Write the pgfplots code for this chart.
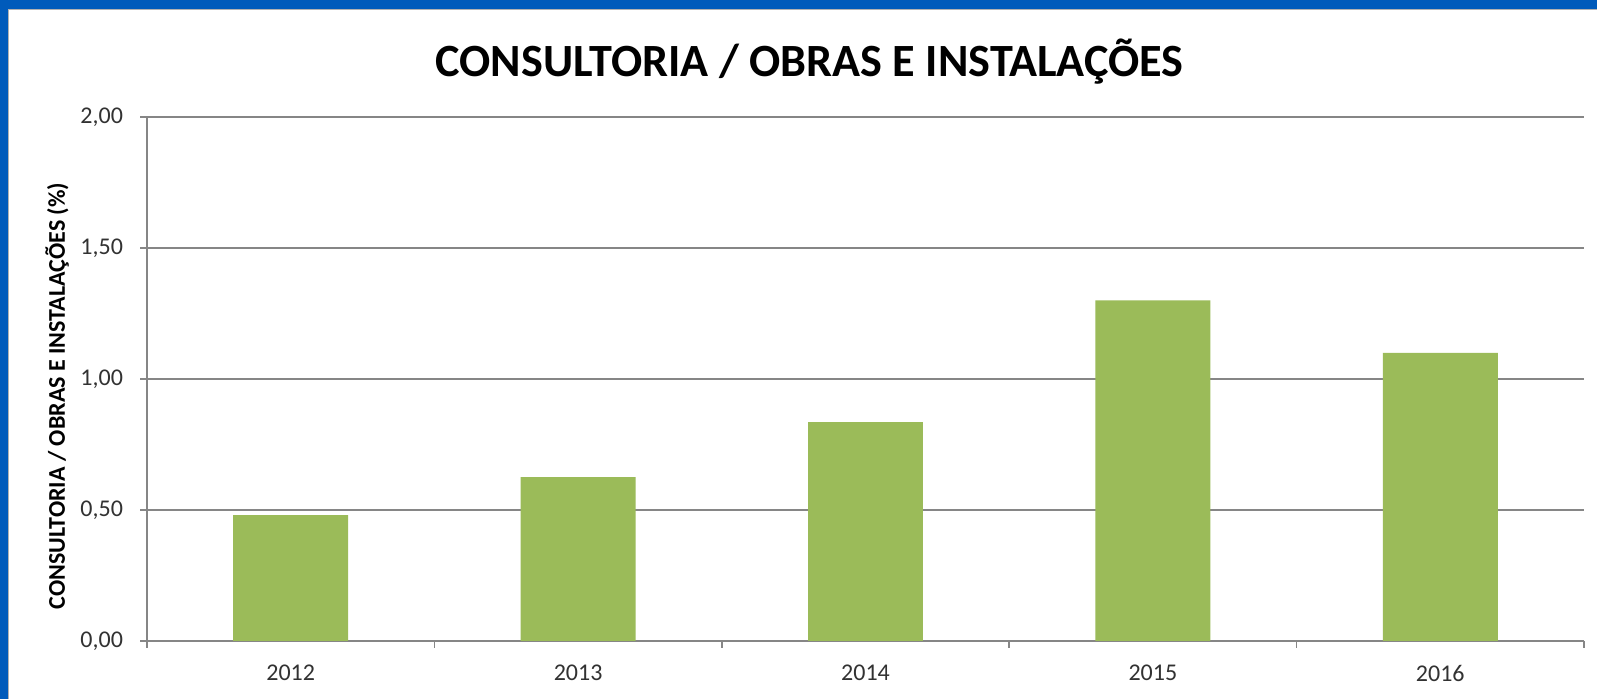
\documentclass[border=0pt]{standalone}
\usepackage{pgfplots}
\pgfplotsset{compat=1.18}
\usepackage{fontspec}
\setmainfont{Carlito}
\definecolor{bandblue}{RGB}{0,91,187}
\definecolor{bargreen}{RGB}{155,187,89}
\definecolor{gridgray}{RGB}{134,134,134}
\definecolor{ticktext}{RGB}{50,50,50}
\begin{document}
\begin{tikzpicture}
\useasboundingbox (0,0) rectangle (798.5pt,349.5pt);
\fill[white] (0,0) rectangle (798.5pt,349.5pt);
\fill[bandblue] (0,345pt) rectangle (798.5pt,349.5pt);
\fill[bandblue] (0,0) rectangle (4pt,349.5pt);
\draw[gray!60, line width=0.6pt] (4.3pt,0) -- (4.3pt,344.7pt) -- (798.5pt,344.7pt);
\begin{axis}[
  at={(73.5pt,29pt)}, anchor=south west,
  width=718.5pt, height=262pt, scale only axis,
  xmin=-0.5, xmax=4.5, ymin=0, ymax=2,
  axis lines*=left,
  axis line style={gridgray, line width=0.8pt},
  ytick={0,0.5,1,1.5,2},
  ymajorgrids,
  grid style={gridgray, line width=0.8pt},
  xtick={0,1,2,3,4},
  xticklabels={2012,2013,2014,2015,2016},
  minor xtick={-0.5,0.5,1.5,2.5,3.5,4.5},
  major x tick style={draw=none},
  tick style={gridgray, line width=0.8pt},
  tick align=outside,
  major tick length=3.5pt,
  minor tick length=3.5pt,
  /pgf/number format/.cd, fixed, fixed zerofill, precision=2, use comma, assume math mode=true,
  /pgfplots/.cd,
  tick label style={font=\fontsize{12}{14}\selectfont, text=ticktext},
  xticklabel style={yshift=-5pt},
  yticklabel style={xshift=-5pt},
  title={CONSULTORIA / OBRAS E INSTALAÇÕES},
  title style={at={(axis description cs:0.461,1.055)}, anchor=base, font=\bfseries\fontsize{23.1}{28}\selectfont},
  ylabel={CONSULTORIA / OBRAS E INSTALAÇÕES (\%)},
  ylabel style={at={(axis description cs:-0.0626,0.4676)}, anchor=center, font=\bfseries\fontsize{12}{14}\selectfont},
]
\addplot[ybar, fill=bargreen, draw=none, bar width=0.4] coordinates {(0,0.48) (1,0.625) (2,0.835) (3,1.30) (4,1.10)};
\end{axis}
\end{tikzpicture}
\end{document}
